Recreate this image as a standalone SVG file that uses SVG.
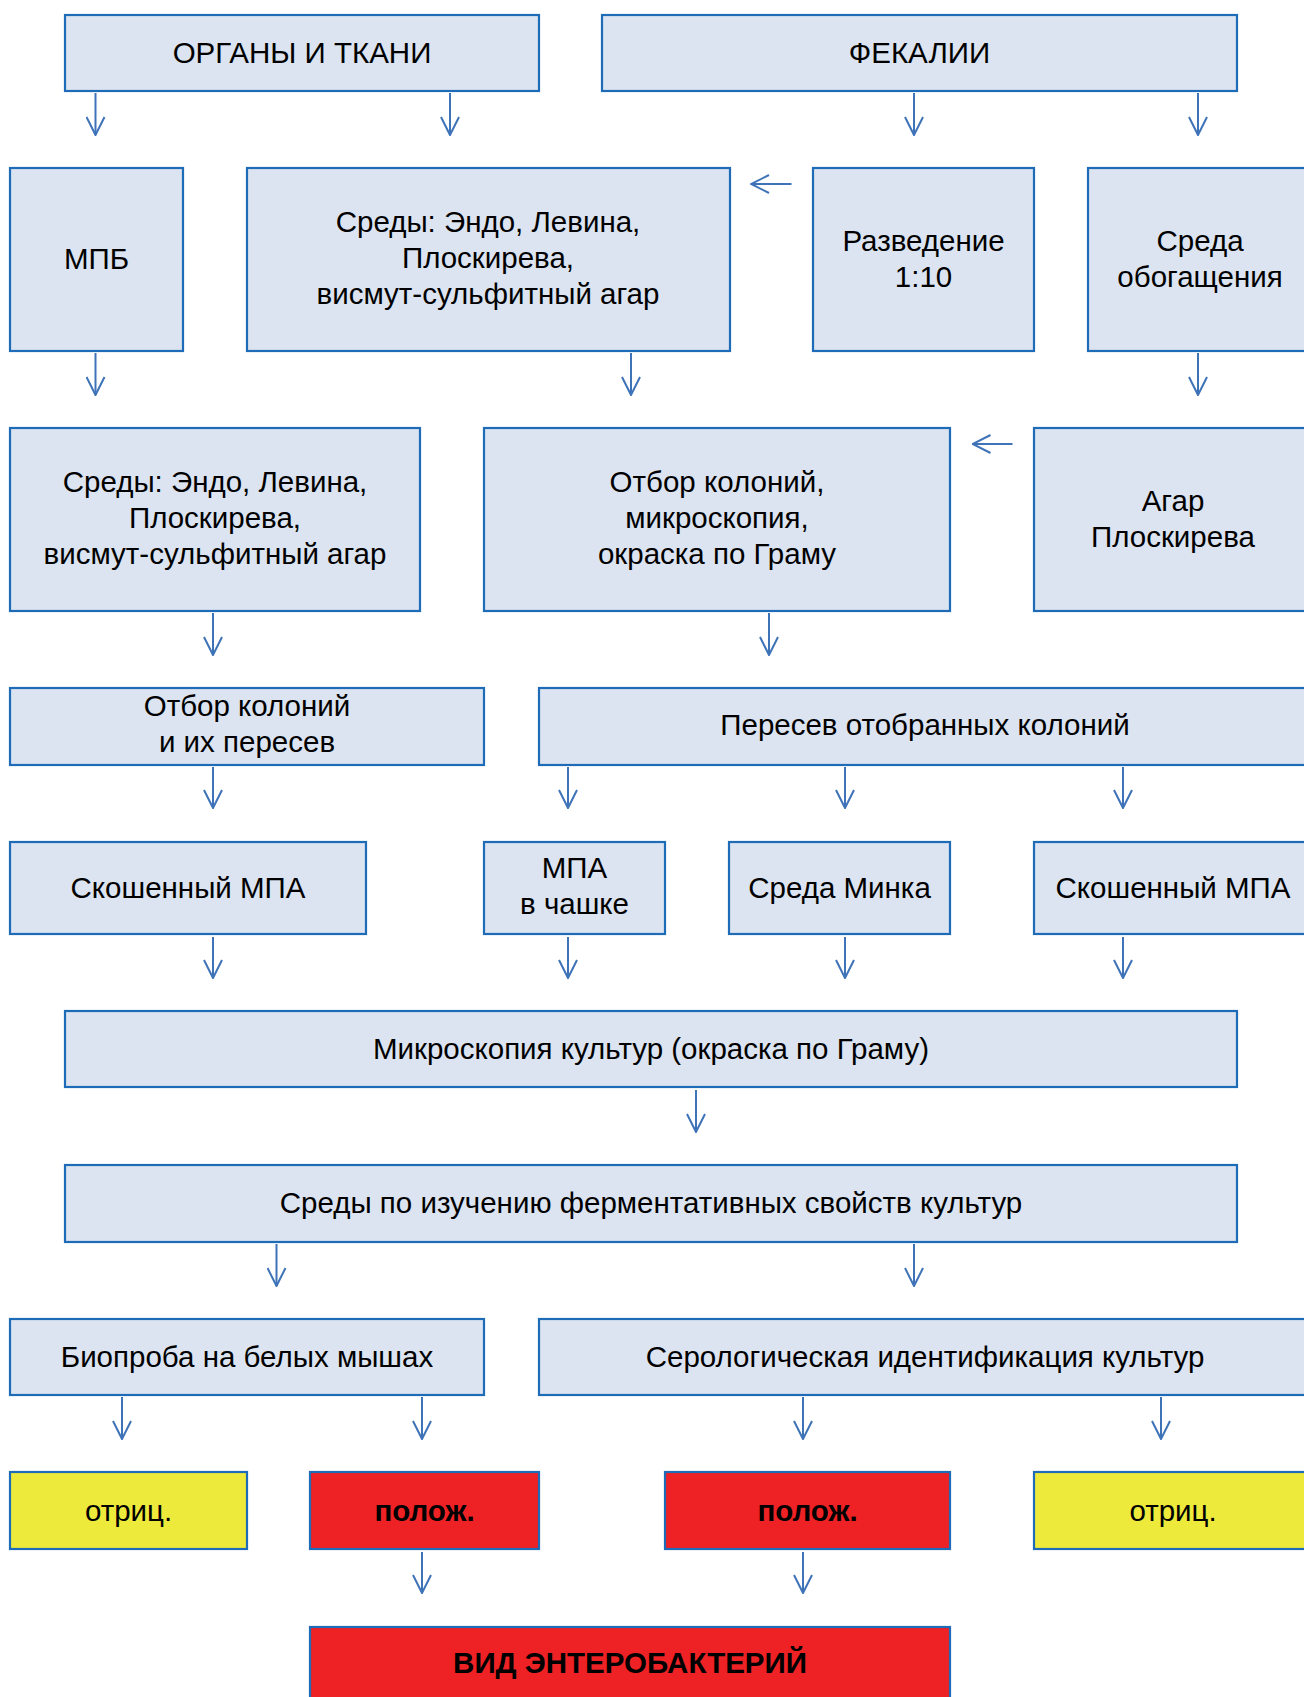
<svg xmlns="http://www.w3.org/2000/svg" width="1304" height="1697" viewBox="0 0 1304 1697">
<style>
.box{fill:#DBE4F0;stroke:#1E6BB8;stroke-width:2.2}
.yel{fill:#EEEA3C;stroke:#1E6BB8;stroke-width:2.2}
.red{fill:#EE2224;stroke:#1E6BB8;stroke-width:2.2}
.t{font-family:"Liberation Sans",Arial,sans-serif;font-size:29.5px;fill:#000;text-anchor:middle}
.b{font-weight:bold}
.c line{stroke:#3F73B8;stroke-width:2;fill:none;marker-end:url(#ah)}
</style>
<defs>
<marker id="ah" viewBox="0 0 20 20" refX="19" refY="10" markerWidth="20" markerHeight="20" markerUnits="userSpaceOnUse" orient="auto">
<path d="M1,1 L19,10 L1,19" fill="none" stroke="#3F73B8" stroke-width="2"/>
</marker>
</defs>
<rect width="1304" height="1697" fill="#FFFFFF"/>

<g id="n-organy"><rect class="box" x="65" y="15" width="474" height="76"/><text class="t" x="302" y="63">ОРГАНЫ И ТКАНИ</text></g>
<g id="n-fekalii"><rect class="box" x="602" y="15" width="635" height="76"/><text class="t" x="919.5" y="63">ФЕКАЛИИ</text></g>

<g id="n-mpb"><rect class="box" x="10" y="168" width="173" height="183"/><text class="t" x="96.5" y="269">МПБ</text></g>
<g id="n-sredy1"><rect class="box" x="247" y="168" width="483" height="183"/><text class="t" x="488" y="232">Среды: Эндо, Левина,<tspan x="488" dy="36">Плоскирева,</tspan><tspan x="488" dy="36">висмут-сульфитный агар</tspan></text></g>
<g id="n-razv"><rect class="box" x="813" y="168" width="221" height="183"/><text class="t" x="923.5" y="251">Разведение<tspan x="923.5" dy="36">1:10</tspan></text></g>
<g id="n-obog"><rect class="box" x="1088" y="168" width="224" height="183"/><text class="t" x="1200" y="251">Среда<tspan x="1200" dy="36">обогащения</tspan></text></g>

<g id="n-sredy2"><rect class="box" x="10" y="428" width="410" height="183"/><text class="t" x="215" y="492">Среды: Эндо, Левина,<tspan x="215" dy="36">Плоскирева,</tspan><tspan x="215" dy="36">висмут-сульфитный агар</tspan></text></g>
<g id="n-otbor1"><rect class="box" x="484" y="428" width="466" height="183"/><text class="t" x="717" y="492">Отбор колоний,<tspan x="717" dy="36">микроскопия,</tspan><tspan x="717" dy="36">окраска по Граму</tspan></text></g>
<g id="n-agar"><rect class="box" x="1034" y="428" width="278" height="183"/><text class="t" x="1173" y="511">Агар<tspan x="1173" dy="36">Плоскирева</tspan></text></g>

<g id="n-otbor2"><rect class="box" x="10" y="688" width="474" height="77"/><text class="t" x="247" y="716">Отбор колоний<tspan x="247" dy="36">и их пересев</tspan></text></g>
<g id="n-peresev"><rect class="box" x="539" y="688" width="773" height="77"/><text class="t" x="925" y="735">Пересев отобранных колоний</text></g>

<g id="n-mpa1"><rect class="box" x="10" y="842" width="356" height="92"/><text class="t" x="188" y="898">Скошенный МПА</text></g>
<g id="n-mpa-cup"><rect class="box" x="484" y="842" width="181" height="92"/><text class="t" x="574.5" y="878">МПА<tspan x="574.5" dy="36">в чашке</tspan></text></g>
<g id="n-minka"><rect class="box" x="729" y="842" width="221" height="92"/><text class="t" x="839.5" y="898">Среда Минка</text></g>
<g id="n-mpa2"><rect class="box" x="1034" y="842" width="278" height="92"/><text class="t" x="1173" y="898">Скошенный МПА</text></g>

<g id="n-mikro"><rect class="box" x="65" y="1011" width="1172" height="76"/><text class="t" x="651" y="1059">Микроскопия культур (окраска по Граму)</text></g>
<g id="n-ferm"><rect class="box" x="65" y="1165" width="1172" height="77"/><text class="t" x="651" y="1213">Среды по изучению ферментативных свойств культур</text></g>

<g id="n-bio"><rect class="box" x="10" y="1319" width="474" height="76"/><text class="t" x="247" y="1367">Биопроба на белых мышах</text></g>
<g id="n-sero"><rect class="box" x="539" y="1319" width="773" height="76"/><text class="t" x="925" y="1367">Серологическая идентификация культур</text></g>

<g id="n-neg1"><rect class="yel" x="10" y="1472" width="237" height="77"/><text class="t" x="128.5" y="1521">отриц.</text></g>
<g id="n-pos1"><rect class="red" x="310" y="1472" width="229" height="77"/><text class="t b" x="424.5" y="1521">полож.</text></g>
<g id="n-pos2"><rect class="red" x="665" y="1472" width="285" height="77"/><text class="t b" x="807.5" y="1521">полож.</text></g>
<g id="n-neg2"><rect class="yel" x="1034" y="1472" width="278" height="77"/><text class="t" x="1173" y="1521">отриц.</text></g>

<g id="n-vid"><rect class="red" x="310" y="1627" width="640" height="80"/><text class="t b" x="630" y="1673">ВИД ЭНТЕРОБАКТЕРИЙ</text></g>

<g id="connectors" class="c">
<line x1="95.5" y1="93" x2="95.5" y2="135"/>
<line x1="450" y1="93" x2="450" y2="135"/>
<line x1="914" y1="93" x2="914" y2="135"/>
<line x1="1198" y1="93" x2="1198" y2="135"/>
<line x1="95.5" y1="353" x2="95.5" y2="395"/>
<line x1="631" y1="353" x2="631" y2="395"/>
<line x1="1198" y1="353" x2="1198" y2="395"/>
<line x1="791.5" y1="184" x2="751" y2="184"/>
<line x1="213" y1="613" x2="213" y2="655"/>
<line x1="769" y1="613" x2="769" y2="655"/>
<line x1="1012.5" y1="444" x2="972.5" y2="444"/>
<line x1="213" y1="767" x2="213" y2="808"/>
<line x1="568" y1="767" x2="568" y2="808"/>
<line x1="845" y1="767" x2="845" y2="808"/>
<line x1="1123" y1="767" x2="1123" y2="808"/>
<line x1="213" y1="937" x2="213" y2="978"/>
<line x1="568" y1="937" x2="568" y2="978"/>
<line x1="845" y1="937" x2="845" y2="978"/>
<line x1="1123" y1="937" x2="1123" y2="978"/>
<line x1="696" y1="1090" x2="696" y2="1132"/>
<line x1="276.5" y1="1244" x2="276.5" y2="1286"/>
<line x1="914" y1="1244" x2="914" y2="1286"/>
<line x1="122" y1="1397" x2="122" y2="1439"/>
<line x1="422" y1="1397" x2="422" y2="1439"/>
<line x1="803" y1="1397" x2="803" y2="1439"/>
<line x1="1161" y1="1397" x2="1161" y2="1439"/>
<line x1="422" y1="1552" x2="422" y2="1593"/>
<line x1="803" y1="1552" x2="803" y2="1593"/>
</g>
</svg>
